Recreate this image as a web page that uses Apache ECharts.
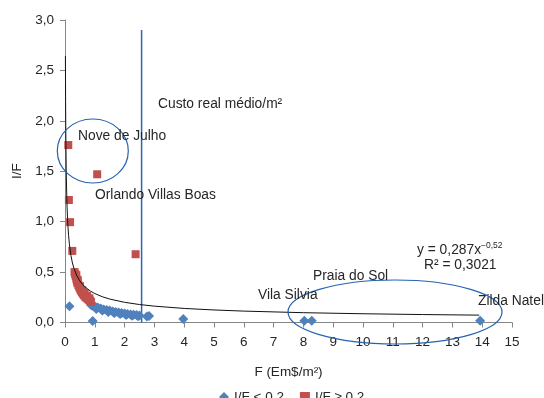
<!DOCTYPE html>
<html>
<head>
<meta charset="utf-8">
<script src="https://cdn.jsdelivr.net/npm/echarts@6/dist/echarts.min.js"></script>
<style>html,body{margin:0;padding:0;background:#fff}#c{width:544px;height:398px}</style>
</head>
<body>
<div id="c"></div>
<script>
// Blue diamonds: I/F < 0,2  [F, I/F]
var lowF  = [0.15, 0.93, 0.88, 0.95, 1.02, 1.10, 1.20, 1.30, 1.40, 1.50, 1.60, 1.70, 1.80, 1.90, 2.00, 2.10, 2.20, 2.30, 2.40, 2.50, 2.75, 2.82, 1.05, 1.25, 1.45, 1.65, 1.85, 2.05, 2.25, 2.45, 3.97, 8.03, 8.28, 13.93];
var lowIF = [0.16, 0.015, 0.17, 0.16, 0.155, 0.15, 0.14, 0.13, 0.125, 0.12, 0.11, 0.105, 0.10, 0.095, 0.09, 0.085, 0.08, 0.078, 0.075, 0.07, 0.06, 0.065, 0.135, 0.12, 0.105, 0.095, 0.085, 0.075, 0.068, 0.062, 0.035, 0.018, 0.018, 0.018];
// Red squares: I/F >= 0,2
var highF  = [0.11, 1.08, 0.13, 0.17, 0.245, 2.37, 0.32, 0.34, 0.36, 0.38, 0.40, 0.42, 0.45, 0.48, 0.51, 0.54, 0.57, 0.60, 0.64, 0.68, 0.72, 0.76, 0.80, 0.84, 0.87, 0.38, 0.43, 0.50, 0.58, 0.66, 0.74, 0.82];
var highIF = [1.76, 1.47, 1.215, 0.995, 0.71, 0.677, 0.50, 0.48, 0.46, 0.435, 0.41, 0.39, 0.37, 0.35, 0.33, 0.315, 0.30, 0.285, 0.27, 0.255, 0.245, 0.235, 0.225, 0.215, 0.205, 0.47, 0.42, 0.36, 0.32, 0.29, 0.265, 0.24];
// Power trendline y = 0,287 x^-0,52 (values as plotted)
var trendF  = [0.014, 0.017, 0.02, 0.025, 0.03, 0.04, 0.05, 0.06, 0.07, 0.085, 0.1, 0.12, 0.15, 0.2, 0.25, 0.3, 0.4, 0.5, 0.6, 0.7, 0.85, 1, 1.25, 1.5, 2, 2.5, 3, 4, 5, 6, 8, 10, 12, 13.9];
var trendIF = [2.642, 2.388, 2.194, 1.954, 1.777, 1.531, 1.363, 1.240, 1.144, 1.034, 0.950, 0.864, 0.770, 0.663, 0.590, 0.537, 0.462, 0.412, 0.374, 0.3455, 0.312, 0.287, 0.2556, 0.2325, 0.2002, 0.1782, 0.1621, 0.1396, 0.1243, 0.1131, 0.0973, 0.0867, 0.0788, 0.0730];
// Custo real médio/m² vertical line
var custoF = [2.57, 2.57];
var custoIF = [0, 2.9];
var xTicks = {min: 0, max: 15, interval: 1};
var yTicks = {min: 0, max: 3, interval: 0.5};

function zip(a, b) { return a.map(function (v, i) { return [v, b[i]]; }); }

var FONT = 'Liberation Sans, Arial, sans-serif';
var TXT = '#262626';
var F14 = '13.8px ' + FONT;
var chart = echarts.init(document.getElementById('c'), null, {renderer: 'canvas'});
chart.setOption({
  animation: false,
  backgroundColor: '#fff',
  textStyle: {fontFamily: FONT},
  grid: {left: 65, right: 32, top: 20, bottom: 75.5, containLabel: false},
  legend: {
    left: 214, top: 385, itemWidth: 10, itemHeight: 10, itemGap: 16,
    textStyle: {fontSize: 13.5, color: TXT, fontFamily: FONT},
    data: [{name: 'I/F < 0,2', icon: 'diamond'}, {name: 'I/F ≥ 0,2', icon: 'rect'}]
  },
  xAxis: {
    type: 'value', min: xTicks.min, max: xTicks.max, interval: xTicks.interval,
    name: 'F (Em$/m²)', nameLocation: 'middle', nameGap: 43,
    nameTextStyle: {fontSize: 13.5, color: TXT, fontFamily: FONT},
    axisLine: {show: true, onZero: false, lineStyle: {color: '#868686', width: 1}},
    axisTick: {show: true, length: 5, lineStyle: {color: '#868686'}},
    axisLabel: {fontSize: 13.5, color: TXT, margin: 13, fontFamily: FONT},
    splitLine: {show: false}
  },
  yAxis: {
    type: 'value', min: yTicks.min, max: yTicks.max, interval: yTicks.interval,
    name: 'I/F', nameLocation: 'middle', nameGap: 40, nameRotate: 90,
    nameTextStyle: {fontSize: 13.5, color: TXT, fontFamily: FONT},
    axisLine: {show: true, onZero: false, lineStyle: {color: '#868686', width: 1}},
    axisTick: {show: true, length: 5, lineStyle: {color: '#868686'}},
    axisLabel: {fontSize: 13.5, color: TXT, margin: 11, fontFamily: FONT,
      formatter: function (v) { return v.toFixed(1).replace('.', ','); }},
    splitLine: {show: false}
  },
  series: [
    {name: 'Custo', type: 'line', data: zip(custoF, custoIF), showSymbol: false, silent: true,
      lineStyle: {color: '#2E64B4', width: 1.5}, z: 1},
    {name: 'I/F < 0,2', type: 'scatter', symbol: 'diamond', symbolSize: 10,
      itemStyle: {color: '#4F81BD', opacity: 1}, data: zip(lowF, lowIF), z: 2},
    {name: 'I/F ≥ 0,2', type: 'scatter', symbol: 'rect', symbolSize: 8,
      itemStyle: {color: '#C0504D', opacity: 1}, data: zip(highF, highIF), z: 3},
    {name: 'trend', type: 'line', data: zip(trendF, trendIF), showSymbol: false, silent: true,
      lineStyle: {color: '#111', width: 1}, z: 4}
  ],
  graphic: [
    {type: 'ellipse', shape: {cx: 92.8, cy: 151, rx: 35.5, ry: 32}, silent: true, z: 10,
      style: {fill: 'none', stroke: '#2563B0', lineWidth: 1.2}},
    {type: 'ellipse', shape: {cx: 395, cy: 312, rx: 107, ry: 32}, silent: true, z: 10,
      style: {fill: 'none', stroke: '#2563B0', lineWidth: 1.2}},
    {type: 'text', x: 158, y: 104, z: 11, style: {text: 'Custo real médio/m²', font: F14, fill: TXT, verticalAlign: 'middle'}},
    {type: 'text', x: 78, y: 136, z: 11, style: {text: 'Nove de Julho', font: F14, fill: TXT, verticalAlign: 'middle'}},
    {type: 'text', x: 95, y: 195, z: 11, style: {text: 'Orlando Villas Boas', font: F14, fill: TXT, verticalAlign: 'middle'}},
    {type: 'text', x: 258, y: 295, z: 11, style: {text: 'Vila Silvia', font: F14, fill: TXT, verticalAlign: 'middle'}},
    {type: 'text', x: 313, y: 276.5, z: 11, style: {text: 'Praia do Sol', font: F14, fill: TXT, verticalAlign: 'middle'}},
    {type: 'text', x: 478, y: 301.5, z: 11, style: {text: 'Zilda Natel', font: F14, fill: TXT, verticalAlign: 'middle'}},
    {type: 'text', x: 417, y: 250, z: 11, style: {
      text: '{a|y = 0,287x}{s|−0,52}', verticalAlign: 'middle',
      rich: {a: {font: F14, fill: TXT, color: TXT}, s: {font: '8.5px ' + FONT, fill: TXT, color: TXT, verticalAlign: 'top', padding: [0, 0, 8, 0]}}
    }},
    {type: 'text', x: 424, y: 265.5, z: 11, style: {text: 'R² = 0,3021', font: F14, fill: TXT, verticalAlign: 'middle'}}
  ]
});
</script>
</body>
</html>
